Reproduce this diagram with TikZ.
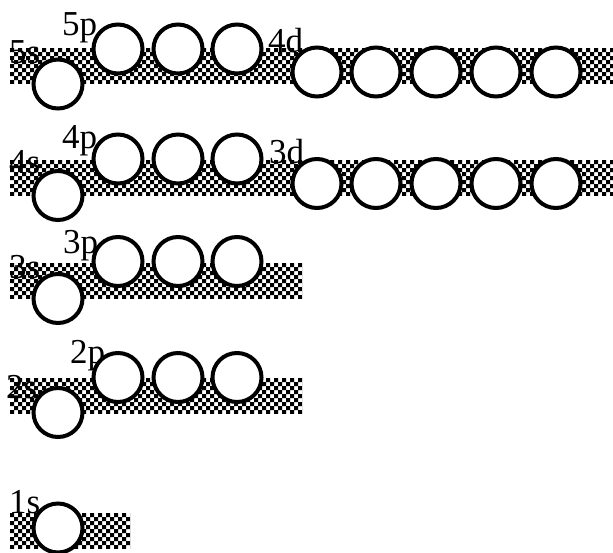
\documentclass[tikz,border=0pt]{standalone}
\usepackage{fontspec}
\setmainfont{Liberation Serif}
\newcommand\checkband[4]{%
  \begin{scope}
    \clip (#1,#2) rectangle (#3,#4);
    \fill[black] foreach \i in {0,8,...,#3} { foreach \j in {0,8,...,36} {
      (#1+\i,#2+\j) rectangle ++(4,4)
      (#1+\i+4,#2+\j+4) rectangle ++(4,4) } };
  \end{scope}}
\tikzset{
  orb/.style={circle, draw=black, line width=4pt, fill=white, minimum size=49pt, inner sep=0pt},
  lab/.style={anchor=base west, inner sep=0pt, font=\fontsize{35}{40}\selectfont}
}
\begin{document}
\begin{tikzpicture}[x=1pt,y=-1pt]
\useasboundingbox (0,0) rectangle (613,552);
% bands
\checkband{10}{48}{613}{83}
\checkband{10}{160}{613}{195}
\checkband{10}{263}{302}{298}
\checkband{10}{378}{302}{413}
\checkband{10}{513}{130}{548}
% row 5
\node[orb] (s5) at (58,84) {};
\node[orb] (p5a) at (118,49) {};
\node[orb] (p5b) at (178,49) {};
\node[orb] (p5c) at (237,49) {};
\node[orb] (d4a) at (317,72) {};
\node[orb] (d4b) at (376,72) {};
\node[orb] (d4c) at (436,72) {};
\node[orb] (d4d) at (496,72) {};
\node[orb] (d4e) at (556,72) {};
% row 4
\node[orb] (s4) at (58,195.5) {};
\node[orb] (p4a) at (118,159) {};
\node[orb] (p4b) at (178,159) {};
\node[orb] (p4c) at (237,159) {};
\node[orb] (d3a) at (317,183.5) {};
\node[orb] (d3b) at (376,183.5) {};
\node[orb] (d3c) at (436,183.5) {};
\node[orb] (d3d) at (496,183.5) {};
\node[orb] (d3e) at (556,183.5) {};
% row 3
\node[orb] (s3) at (58,298.5) {};
\node[orb] (p3a) at (118,261.5) {};
\node[orb] (p3b) at (178,261.5) {};
\node[orb] (p3c) at (237,261.5) {};
% row 2
\node[orb] (s2) at (58,412.5) {};
\node[orb] (p2a) at (118,377.5) {};
\node[orb] (p2b) at (178,377.5) {};
\node[orb] (p2c) at (237,377.5) {};
% row 1
\node[orb] (s1) at (58,528) {};
% labels
\node[lab] (l5p) at (62,35) {5p};
\node[lab] (l5s) at (9,63) {5s};
\node[lab] (l4d) at (268,52) {4d};
\node[lab] (l4p) at (62,148) {4p};
\node[lab] (l4s) at (9,173) {4s};
\node[lab] (l3d) at (269,163) {3d};
\node[lab] (l3p) at (63,253) {3p};
\node[lab] (l3s) at (9,278) {3s};
\node[lab] (l2p) at (70,363) {2p};
\node[lab] (l2s) at (6,398) {2s};
\node[lab] (l1s) at (9,513) {1s};
\end{tikzpicture}
\end{document}
